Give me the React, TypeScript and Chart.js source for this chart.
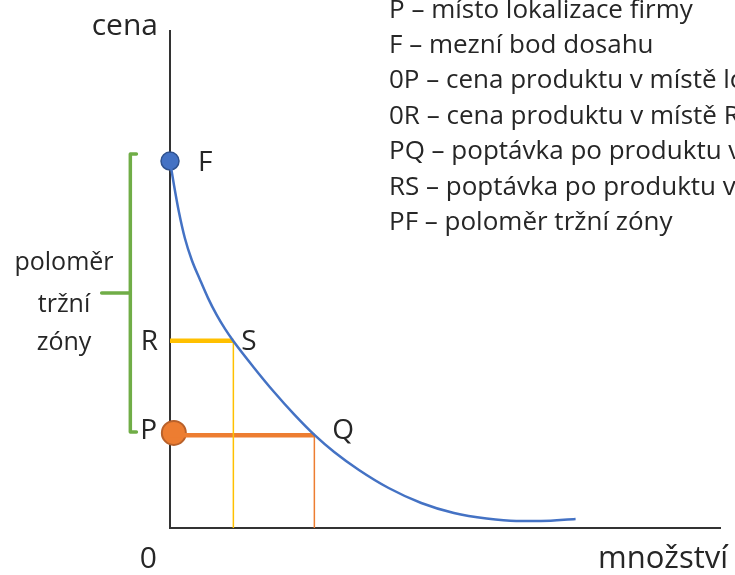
import React, { useEffect, useRef } from "react";
import { Chart, registerables } from "chart.js";

Chart.register(...registerables);

// Demand curve (quantity, price) in chart units
const curveQty = [0, 0.72, 1.62, 2.69, 3.95, 5.39, 6.91, 8.44, 9.96, 11.49, 15.17, 18.85, 22.53, 26.21, 29.8, 34.29, 39.68, 45.6, 51.53, 57.45, 62.84, 67.33, 73.61];
const curvePrice = [73.69, 68.88, 63.45, 58.23, 53.82, 50.0, 46.16, 42.83, 40.02, 37.55, 32.29, 27.35, 22.81, 18.69, 15.26, 11.65, 8.03, 5.02, 3.01, 1.89, 1.41, 1.41, 1.81];

// Key points
const pointF = { x: 0, y: 73.69 };
const priceP = 18.6;
const qtyQ = 26.2;
const priceR = 37.6;
const qtyS = 11.5;

// Bracket (market zone radius)
const bracketX = [-6.1, -7.2, -7.2, -6.1];
const bracketY = [75.1, 75.1, 19.3, 19.3];
const bracketTickX = [-7.2, -12.4];
const bracketTickY = [47.2, 47.2];

const legendLines = [
  "P – místo lokalizace firmy",
  "F – mezní bod dosahu",
  "0P – cena produktu v místě lokalizace",
  "0R – cena produktu v místě R",
  "PQ – poptávka po produktu v místě P",
  "RS – poptávka po produktu v místě R",
  "PF – poloměr tržní zóny",
];
const zoneLabel = ["poloměr", "tržní", "zóny"];
const axisLabelY = "cena";
const axisLabelX = "množství";
const originLabel = "0";

const FONT = "'Open Sans', 'Noto Sans', sans-serif";
const TEXT = "#262626";

const labelsPlugin = {
  id: "labels",
  beforeDatasetsDraw(chart: any) {
    const { ctx, chartArea } = chart;
    ctx.save();
    ctx.strokeStyle = "#333333";
    ctx.lineWidth = 2;
    ctx.beginPath();
    ctx.moveTo(chartArea.left, chartArea.top);
    ctx.lineTo(chartArea.left, chartArea.bottom);
    ctx.lineTo(chartArea.right, chartArea.bottom);
    ctx.stroke();
    ctx.restore();
  },
  afterDatasetsDraw(chart: any) {
    const { ctx, chartArea, scales } = chart;
    const xs = scales.x;
    const ys = scales.y;
    const L = chartArea.left;
    const B = chartArea.bottom;
    ctx.save();
    ctx.fillStyle = TEXT;
    ctx.textBaseline = "alphabetic";

    // legend
    ctx.font = `26px ${FONT}`;
    ctx.textAlign = "left";
    legendLines.forEach((t, i) => {
      ctx.fillText(t, L + 219, 17.5 + i * 35.4);
    });

    // zone label
    ctx.font = `25px ${FONT}`;
    ctx.textAlign = "center";
    const zoneBase = [270, 312, 350];
    zoneLabel.forEach((t, i) => {
      ctx.fillText(t, 64, zoneBase[i]);
    });

    // axis labels
    ctx.font = `30px ${FONT}`;
    ctx.textAlign = "right";
    ctx.fillText(axisLabelY, L - 12, chartArea.top + 5);
    ctx.textAlign = "right";
    ctx.fillText(originLabel, L - 13, B + 40);
    ctx.font = `31px ${FONT}`;
    ctx.textAlign = "left";
    ctx.fillText(axisLabelX, 598, B + 40);

    // point labels
    ctx.font = `28px ${FONT}`;
    ctx.textAlign = "left";
    ctx.fillText("F", xs.getPixelForValue(pointF.x) + 28, ys.getPixelForValue(pointF.y) + 10);
    ctx.fillText("S", xs.getPixelForValue(qtyS) + 8, ys.getPixelForValue(priceR) + 9);
    ctx.fillText("Q", xs.getPixelForValue(qtyQ) + 18, ys.getPixelForValue(priceP) + 4);
    ctx.textAlign = "right";
    ctx.fillText("R", L - 12, ys.getPixelForValue(priceR) + 9);
    ctx.fillText("P", L - 13, ys.getPixelForValue(priceP) + 4);
    ctx.restore();
  },
};

const line = (pts: { x: number; y: number }[], color: string, width: number, extra: any = {}) => ({
  data: pts,
  showLine: true,
  borderColor: color,
  backgroundColor: color,
  borderWidth: width,
  pointRadius: 0,
  fill: false,
  ...extra,
});

export default function App() {
  const ref = useRef<HTMLCanvasElement>(null);
  useEffect(() => {
    document.body.style.margin = "0";
    const curve = curveQty.map((x, i) => ({ x, y: curvePrice[i] }));
    const chart = new Chart(ref.current!, {
      type: "scatter",
      data: {
        datasets: [
          line(curve, "#4472C4", 2.5, { cubicInterpolationMode: "monotone" }),
          line([{ x: 0, y: priceR }, { x: qtyS, y: priceR }], "#FFC000", 4.5),
          line([{ x: qtyS, y: priceR }, { x: qtyS, y: 0 }], "#FFC000", 1.5),
          line([{ x: 0, y: priceP }, { x: qtyQ, y: priceP }], "#ED7D31", 4.5),
          line([{ x: qtyQ, y: priceP }, { x: qtyQ, y: 0 }], "#ED7D31", 1.5),
          line(bracketX.map((x, i) => ({ x, y: bracketY[i] })), "#70AD47", 3.5, { clip: false, borderJoinStyle: "round", borderCapStyle: "round" }),
          line(bracketTickX.map((x, i) => ({ x, y: bracketTickY[i] })), "#70AD47", 3.5, { clip: false, borderCapStyle: "round" }),
          {
            data: [{ x: 0.7, y: priceP + 0.5 }],
            pointRadius: 12,
            pointBackgroundColor: "#ED7D31",
            pointBorderColor: "#B9612A",
            pointBorderWidth: 2,
            showLine: false,
            clip: false,
          },
          {
            data: [pointF],
            pointRadius: 9,
            pointBackgroundColor: "#4472C4",
            pointBorderColor: "#2F528F",
            pointBorderWidth: 1.5,
            showLine: false,
            clip: false,
          },
        ],
      },
      options: {
        animation: false,
        responsive: false,
        layout: { padding: { left: 170, right: 8, top: 30, bottom: 47 } },
        scales: {
          x: { type: "linear", min: 0, max: 100, display: false },
          y: { type: "linear", min: 0, max: 100, display: false },
        },
        plugins: { legend: { display: false }, tooltip: { enabled: false } },
      },
      plugins: [labelsPlugin],
    });
    return () => chart.destroy();
  }, []);
  return <canvas ref={ref} width={735} height={575} style={{ display: "block" }} />;
}
